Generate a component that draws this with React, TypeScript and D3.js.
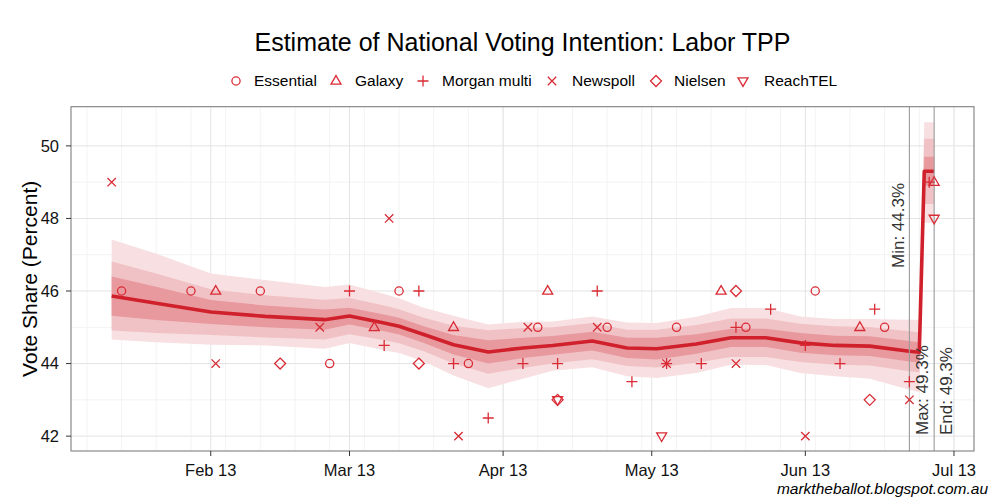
import React from 'react';
import * as d3 from 'd3';

// polling houses (legend order)
const houses = ['Essential', 'Galaxy', 'Morgan multi', 'Newspoll', 'Nielsen', 'ReachTEL'];

// poll results, Labor two-party preferred
const essentialDates = ['2013-01-14', '2013-01-28', '2013-02-11', '2013-02-25', '2013-03-11', '2013-03-25', '2013-04-08', '2013-04-22', '2013-05-06', '2013-05-20', '2013-06-03', '2013-06-17'];
const essentialValues = [46, 46, 46, 44, 46, 44, 45, 45, 45, 45, 46, 45];

const galaxyDates = ['2013-02-02', '2013-03-06', '2013-03-22', '2013-04-10', '2013-05-15', '2013-06-12', '2013-06-27'];
const galaxyValues = [46, 45, 45, 46, 46, 45, 49];

const morganDates = ['2013-03-01', '2013-03-08', '2013-03-15', '2013-03-22', '2013-03-29', '2013-04-05', '2013-04-12', '2013-04-20', '2013-04-27', '2013-05-04', '2013-05-11', '2013-05-18', '2013-05-25', '2013-06-01', '2013-06-08', '2013-06-15', '2013-06-22', '2013-06-26'];
const morganValues = [46, 44.5, 46, 44, 42.5, 44, 44, 46, 43.5, 44, 44, 45, 45.5, 44.5, 44, 45.5, 43.5, 49];

const newspollDates = ['2013-01-12', '2013-02-02', '2013-02-23', '2013-03-09', '2013-03-23', '2013-04-06', '2013-04-20', '2013-05-04', '2013-05-18', '2013-06-01', '2013-06-22'];
const newspollValues = [49, 44, 45, 48, 42, 45, 45, 44, 44, 42, 43];

const nielsenDates = ['2013-02-15', '2013-03-15', '2013-04-12', '2013-05-18', '2013-06-14'];
const nielsenValues = [44, 44, 43, 46, 43];

const reachtelDates = ['2013-04-12', '2013-05-03', '2013-06-27'];
const reachtelValues = [43, 42, 48];

// estimated trend and credible intervals
const trendDates = ['2013-01-12', '2013-01-21', '2013-02-01', '2013-02-12', '2013-02-24', '2013-03-01', '2013-03-08', '2013-03-11', '2013-03-16', '2013-03-22', '2013-03-29', '2013-04-05', '2013-04-11', '2013-04-19', '2013-04-26', '2013-05-02', '2013-05-10', '2013-05-17', '2013-05-24', '2013-05-31', '2013-06-07', '2013-06-14', '2013-06-22', '2013-06-24', '2013-06-25', '2013-06-27'];
const trendValues = [45.86, 45.66, 45.42, 45.3, 45.21, 45.31, 45.12, 45.03, 44.8, 44.52, 44.32, 44.43, 44.5, 44.62, 44.43, 44.41, 44.54, 44.71, 44.71, 44.57, 44.5, 44.48, 44.34, 44.31, 49.3, 49.3];
const innerHalf = [0.54, 0.46, 0.33, 0.3, 0.28, 0.23, 0.23, 0.23, 0.23, 0.27, 0.32, 0.28, 0.26, 0.26, 0.28, 0.3, 0.27, 0.25, 0.25, 0.27, 0.27, 0.27, 0.28, 0.28, 0.4, 0.4];
const midHalf = [0.95, 0.82, 0.63, 0.58, 0.55, 0.5, 0.48, 0.47, 0.46, 0.52, 0.6, 0.55, 0.5, 0.5, 0.5, 0.52, 0.52, 0.53, 0.53, 0.53, 0.53, 0.53, 0.55, 0.55, 0.9, 0.9];
const outerUp = [1.56, 1.37, 1.06, 1.0, 0.9, 0.87, 0.8, 0.77, 0.74, 0.8, 0.76, 0.72, 0.66, 0.68, 0.7, 0.71, 0.75, 0.82, 0.82, 0.73, 0.73, 0.75, 0.87, 0.9, 1.35, 1.35];
const outerDown = [1.2, 1.07, 0.9, 0.8, 0.8, 0.74, 0.75, 0.74, 0.74, 0.85, 1.0, 0.85, 0.7, 0.72, 0.78, 0.81, 0.8, 0.74, 0.75, 0.83, 0.85, 0.9, 1.06, 1.1, 1.42, 1.42];

const yTicks = [42, 44, 46, 48, 50];

// annotations
const markerDates = ['2013-06-22', '2013-06-27'];
const minLabel = 'Min: 44.3%';
const maxLabel = 'Max: 49.3%';
const endLabel = 'End: 49.3%';

const W = 1000;
const H = 500;
const LEFT = 71;
const RIGHT = 974;
const TOP = 106.7;
const BOTTOM = 451;

const RED = '#d0202b';
const POINT_RED = '#d92b35';
const FONT = '"Liberation Sans", Arial, Helvetica, sans-serif';

const parse = d3.timeParse('%Y-%m-%d');

// ggplot-like open shapes
const shapePath: Record<string, string> = {
  Galaxy: 'M0,-5.4L5,3.2L-5,3.2Z',
  'Morgan multi': 'M-5.5,0H5.5M0,-5.5V5.5',
  Newspoll: 'M-4.2,-4.2L4.2,4.2M-4.2,4.2L4.2,-4.2',
  Nielsen: 'M0,-5.5L5.5,0L0,5.5L-5.5,0Z',
  ReachTEL: 'M0,5.4L5,-3.2L-5,-3.2Z',
};

const Marker = ({ house, x, y }: { house: string; x: number; y: number }) => {
  if (house === 'Essential') {
    return <circle cx={x} cy={y} r={4.1} fill="none" stroke={POINT_RED} strokeWidth={1.3} />;
  }
  return (
    <path
      d={shapePath[house]}
      transform={`translate(${x},${y})`}
      fill="none"
      stroke={POINT_RED}
      strokeWidth={1.3}
    />
  );
};

const pollSets = [
  { house: 'Essential', dates: essentialDates, values: essentialValues },
  { house: 'Galaxy', dates: galaxyDates, values: galaxyValues },
  { house: 'Morgan multi', dates: morganDates, values: morganValues },
  { house: 'Newspoll', dates: newspollDates, values: newspollValues },
  { house: 'Nielsen', dates: nielsenDates, values: nielsenValues },
  { house: 'ReachTEL', dates: reachtelDates, values: reachtelValues },
];

// legend layout (symbol x, text x)
const legendSymbolX = [236, 336, 423, 552, 656, 743];
const legendTextX = [254, 355, 442, 572, 674, 764];

export default function App() {
  const x = d3
    .scaleTime()
    .domain([new Date(2013, 0, 3, 19), new Date(2013, 6, 5, 1)])
    .range([LEFT, RIGHT]);
  const y = d3.scaleLinear().domain([41.59, 51.08]).range([BOTTOM, TOP]);

  const trend = trendDates.map((d, i) => ({
    date: parse(d) as Date,
    v: trendValues[i],
    inner: innerHalf[i],
    mid: midHalf[i],
    up: outerUp[i],
    dn: outerDown[i],
  }));
  type T = (typeof trend)[number];

  const outerArea = d3
    .area<T>()
    .x((d) => x(d.date))
    .y0((d) => y(d.v - d.dn))
    .y1((d) => y(d.v + d.up));
  const midArea = d3
    .area<T>()
    .x((d) => x(d.date))
    .y0((d) => y(d.v - d.mid))
    .y1((d) => y(d.v + d.mid));
  const innerArea = d3
    .area<T>()
    .x((d) => x(d.date))
    .y0((d) => y(d.v - d.inner))
    .y1((d) => y(d.v + d.inner));
  const line = d3
    .line<T>()
    .x((d) => x(d.date))
    .y((d) => y(d.v));

  const [d0, d1] = x.domain();
  const majorX = d3.timeMonth.range(d3.timeMonth.ceil(d0), d1);
  const minorX = d3.timeMonday.range(d3.timeMonday.ceil(d0), d1);
  const minorY = [43, 45, 47, 49];
  const fmt = d3.timeFormat('%b %y');

  const mk = markerDates.map((d) => x(parse(d) as Date));

  return (
    <svg
      width={W}
      height={H}
      style={{ position: 'absolute', left: 0, top: 0, background: '#fff' }}
      fontFamily={FONT}
    >
      <rect x={0} y={0} width={W} height={H} fill="#fff" />

      {/* title */}
      <text x={(LEFT + RIGHT) / 2} y={51} textAnchor="middle" fontSize={25} fill="#000">
        Estimate of National Voting Intention: Labor TPP
      </text>

      {/* legend */}
      {houses.map((h, i) => (
        <g key={h}>
          <Marker house={h} x={legendSymbolX[i]} y={81} />
          <text x={legendTextX[i]} y={81} dy="0.35em" fontSize={15.5} fill="#000">
            {h}
          </text>
        </g>
      ))}

      {/* grid */}
      <g>
        {minorX.map((d) => (
          <line key={'mx' + +d} x1={x(d)} x2={x(d)} y1={TOP} y2={BOTTOM} stroke="#f3f3f3" strokeWidth={1} />
        ))}
        {minorY.map((v) => (
          <line key={'my' + v} x1={LEFT} x2={RIGHT} y1={y(v)} y2={y(v)} stroke="#f3f3f3" strokeWidth={1} />
        ))}
        {majorX.map((d) => (
          <line key={'MX' + +d} x1={x(d)} x2={x(d)} y1={TOP} y2={BOTTOM} stroke="#e3e3e3" strokeWidth={1} />
        ))}
        {yTicks.map((v) => (
          <line key={'MY' + v} x1={LEFT} x2={RIGHT} y1={y(v)} y2={y(v)} stroke="#e3e3e3" strokeWidth={1} />
        ))}
      </g>

      {/* intervals and trend */}
      <path d={outerArea(trend) || ''} fill="#f8e0e2" />
      <path d={midArea(trend) || ''} fill="#f1c2c5" />
      <path d={innerArea(trend) || ''} fill="#e8999e" />
      <path d={line(trend) || ''} fill="none" stroke={RED} strokeWidth={3.6} strokeLinejoin="round" />

      {/* annotation lines */}
      {mk.map((px, i) => (
        <line key={'ann' + i} x1={px} x2={px} y1={TOP} y2={BOTTOM} stroke="#9a9a9a" strokeWidth={1.1} />
      ))}

      {/* poll points */}
      {pollSets.map((s) =>
        s.dates.map((d, i) => (
          <Marker key={s.house + d} house={s.house} x={x(parse(d) as Date)} y={y(s.values[i])} />
        ))
      )}

      {/* annotation labels */}
      <text transform={`translate(${mk[0] - 11.5},268) rotate(-90)`} dy="0.35em" fontSize={17} fill="#333">
        {minLabel}
      </text>
      <text transform={`translate(${mk[0] + 12.5},435) rotate(-90)`} dy="0.35em" fontSize={17} fill="#333">
        {maxLabel}
      </text>
      <text transform={`translate(${mk[1] + 11.5},435) rotate(-90)`} dy="0.35em" fontSize={17} fill="#333">
        {endLabel}
      </text>

      {/* panel border */}
      <rect x={LEFT} y={TOP} width={RIGHT - LEFT} height={BOTTOM - TOP} fill="none" stroke="#7f7f7f" strokeWidth={1.1} />

      {/* y axis */}
      {yTicks.map((v) => (
        <g key={'yt' + v}>
          <line x1={LEFT - 5} x2={LEFT} y1={y(v)} y2={y(v)} stroke="#333" strokeWidth={1} />
          <text x={LEFT - 12} y={y(v)} dy="0.35em" textAnchor="end" fontSize={16.5} fill="#111">
            {v}
          </text>
        </g>
      ))}
      <text transform={`translate(30,${(TOP + BOTTOM) / 2}) rotate(-90)`} textAnchor="middle" dy="0.35em" fontSize={21} fill="#000">
        Vote Share (Percent)
      </text>

      {/* x axis */}
      {majorX.map((d) => (
        <g key={'xt' + +d}>
          <line x1={x(d)} x2={x(d)} y1={BOTTOM} y2={BOTTOM + 5} stroke="#333" strokeWidth={1} />
          <text x={x(d)} y={BOTTOM + 25} textAnchor="middle" fontSize={16.5} fill="#111">
            {fmt(d)}
          </text>
        </g>
      ))}

      {/* source */}
      <text x={988} y={494} textAnchor="end" fontSize={15.5} fontStyle="italic" fill="#000">
        marktheballot.blogspot.com.au
      </text>
    </svg>
  );
}
